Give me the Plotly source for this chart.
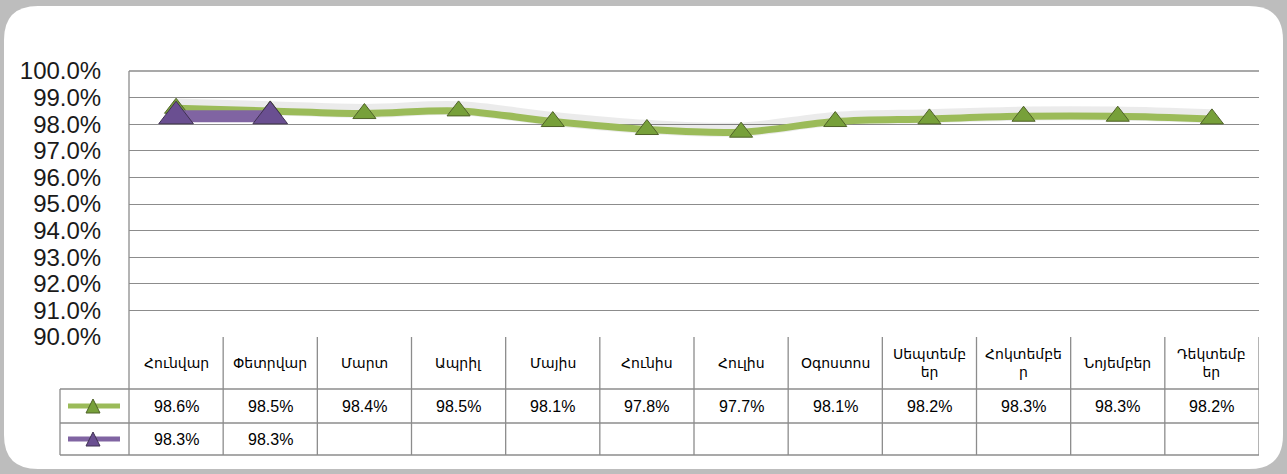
import plotly.graph_objects as go

months = ["Հունվար", "Փետրվար", "Մարտ", "Ապրիլ", "Մայիս", "Հունիս",
          "Հուլիս", "Օգոստոս", "Սեպտեմբեր", "Հոկտեմբեր", "Նոյեմբեր", "Դեկտեմբեր"]
header_labels = ["Հունվար", "Փետրվար", "Մարտ", "Ապրիլ", "Մայիս", "Հունիս",
                 "Հուլիս", "Օգոստոս", "Սեպտեմբ<br>եր", "Հոկտեմբե<br>ր", "Նոյեմբեր", "Դեկտեմբ<br>եր"]
series_green = [98.6, 98.5, 98.4, 98.5, 98.1, 97.8, 97.7, 98.1, 98.2, 98.3, 98.3, 98.2]
series_purple = [98.3, 98.3, None, None, None, None, None, None, None, None, None, None]
y_ticks = [90, 91, 92, 93, 94, 95, 96, 97, 98, 99, 100]

W, H = 1287, 474
L, R, T, B = 129, 1259, 71, 337

def px(p):
    return (p - L) / (R - L)

def py(p):
    return (B - p) / (B - T)

GREEN = "#9BBB59"
GREEN_M = "#77A03A"
GREEN_D = "#4F6228"
PURPLE = "#8064A2"
PURPLE_M = "#6A4F91"
PURPLE_D = "#3F3151"
GRID = "#8C8C8C"

xs = list(range(len(months)))

fig = go.Figure()
# soft shadows
fig.add_trace(go.Scatter(x=xs, y=[v + 0.1 for v in series_green], mode="lines",
                         line=dict(color="rgba(0,0,0,0.08)", width=14, shape="spline"),
                         hoverinfo="skip", showlegend=False))
fig.add_trace(go.Scatter(x=xs, y=series_green, mode="lines+markers",
                         line=dict(color=GREEN, width=7, shape="spline"),
                         marker=dict(symbol="triangle-up", size=20, color=GREEN_M,
                                     line=dict(color=GREEN_D, width=1)),
                         showlegend=False))
fig.add_trace(go.Scatter(x=xs, y=series_purple, mode="lines+markers",
                         line=dict(color=PURPLE, width=12, shape="spline"),
                         marker=dict(symbol="triangle-up", size=30, color=PURPLE_M,
                                     line=dict(color=PURPLE_D, width=1)),
                         showlegend=False))

shapes = []
# white rounded card
x0, y0, x1, y1, r = 4, 6, 1283, 469, 34
path = (f"M {px(x0+r)},{py(y0)} L {px(x1-r)},{py(y0)} Q {px(x1)},{py(y0)} {px(x1)},{py(y0+r)} "
        f"L {px(x1)},{py(y1-r)} Q {px(x1)},{py(y1)} {px(x1-r)},{py(y1)} "
        f"L {px(x0+r)},{py(y1)} Q {px(x0)},{py(y1)} {px(x0)},{py(y1-r)} "
        f"L {px(x0)},{py(y0+r)} Q {px(x0)},{py(y0)} {px(x0+r)},{py(y0)} Z")
shapes.append(dict(type="path", path=path, xref="paper", yref="paper",
                   fillcolor="white", line=dict(width=0), layer="below"))

lw = 1.3
# top gridline (100%)
shapes.append(dict(type="line", xref="paper", yref="paper", x0=0, x1=1, y0=1, y1=1,
                   line=dict(color=GRID, width=lw), layer="below"))
# left axis line extended through table header
shapes.append(dict(type="line", xref="paper", yref="paper", x0=0, x1=0, y0=1, y1=py(455),
                   line=dict(color=GRID, width=lw)))
# vertical column separators in table
for i in range(len(months)):
    shapes.append(dict(type="line", xref="x", yref="paper", x0=i + 0.5, x1=i + 0.5,
                       y0=0, y1=py(455), line=dict(color=GRID, width=lw)))
# legend column left
shapes.append(dict(type="line", xref="paper", yref="paper", x0=px(60), x1=px(60),
                   y0=py(389), y1=py(455), line=dict(color=GRID, width=lw)))
# horizontal table lines
for yy in [389, 423, 455]:
    shapes.append(dict(type="line", xref="paper", yref="paper", x0=px(60), x1=1,
                       y0=py(yy), y1=py(yy), line=dict(color=GRID, width=lw)))
# legend icons
for yy, lc, mc, dc in [(406, GREEN, GREEN_M, GREEN_D), (439, PURPLE, PURPLE_M, PURPLE_D)]:
    shapes.append(dict(type="line", xref="paper", yref="paper", x0=px(68), x1=px(120),
                       y0=py(yy), y1=py(yy), line=dict(color=lc, width=5)))
    tri = f"M {px(86)},{py(yy+7)} L {px(100)},{py(yy+7)} L {px(93)},{py(yy-7)} Z"
    shapes.append(dict(type="path", path=tri, xref="paper", yref="paper",
                       fillcolor=mc, line=dict(color=dc, width=1)))

annotations = []
for i, lab in enumerate(header_labels):
    annotations.append(dict(x=i, y=py(363), xref="x", yref="paper", text=lab,
                            showarrow=False, font=dict(family="DejaVu Sans", size=14, color="black"),
                            xanchor="center", yanchor="middle"))
for i, v in enumerate(series_green):
    annotations.append(dict(x=i, y=py(406), xref="x", yref="paper", text=f"{v:.1f}%",
                            showarrow=False, font=dict(family="Liberation Sans", size=16, color="black"),
                            xanchor="center", yanchor="middle"))
for i, v in enumerate(series_purple):
    if v is not None:
        annotations.append(dict(x=i, y=py(439), xref="x", yref="paper", text=f"{v:.1f}%",
                                showarrow=False, font=dict(family="Liberation Sans", size=16, color="black"),
                                xanchor="center", yanchor="middle"))

fig.update_layout(
    width=W, height=H,
    margin=dict(l=L, r=W - R, t=T, b=H - B, pad=0),
    paper_bgcolor="#BDBDBD", plot_bgcolor="rgba(0,0,0,0)",
    shapes=shapes, annotations=annotations,
    xaxis=dict(range=[-0.5, len(months) - 0.5], showticklabels=False, showgrid=False,
               zeroline=False, showline=False, fixedrange=True),
    yaxis=dict(range=[90, 100], tickvals=y_ticks, ticktext=[f"{t:.1f}%" for t in y_ticks],
               showgrid=True, gridcolor=GRID, gridwidth=1.3, zeroline=False, showline=False,
               ticks="outside", ticklen=22, tickcolor="rgba(0,0,0,0)",
               tickfont=dict(family="Liberation Sans", size=24, color="#1a1a1a")),
)

fig.write_html("out.html", config={"displayModeBar": False},
               post_script="document.body.style.margin='0';document.body.style.overflow='hidden';")
